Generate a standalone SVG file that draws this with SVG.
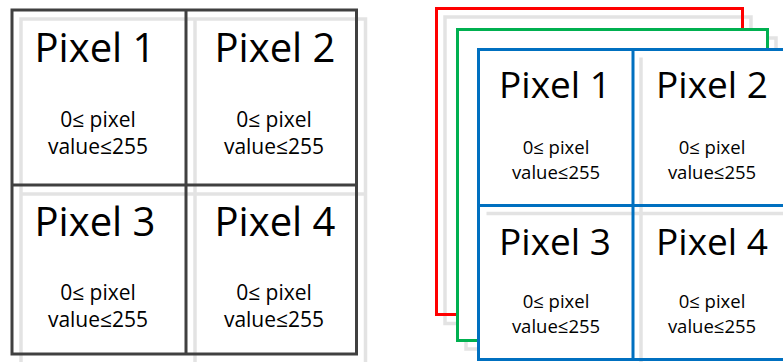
<svg xmlns="http://www.w3.org/2000/svg" width="783" height="362" viewBox="0 0 783 362">
  <style>
    .shadow { fill: none; stroke: #e3e3e3; stroke-width: 3.5; }
    .grid { fill: none; stroke: #404040; stroke-width: 3; }
    .red { fill: none; stroke: #ff0000; stroke-width: 3; }
    .green { fill: #ffffff; stroke: #00b050; stroke-width: 3; }
    .blue { fill: none; stroke: #0070c0; stroke-width: 3; }
    text { font-family: "Open Sans", "Liberation Sans", sans-serif; fill: #000000; text-anchor: middle; }
    .t1 { font-size: 40px; }
    .s1 { font-size: 21px; }
    .t2 { font-size: 37px; }
    .s2 { font-size: 18.5px; }
  </style>

  <!-- single-channel image: 2x2 pixel grid -->
  <g id="gray-grid">
    <g id="gray-grid-shadow">
      <rect class="shadow" x="21" y="19" width="344.5" height="346"/>
      <line class="shadow" x1="195" y1="19" x2="195" y2="365"/>
      <line class="shadow" x1="21" y1="194" x2="365.5" y2="194"/>
    </g>
    <g id="gray-grid-lines">
      <rect class="grid" x="12" y="10" width="344.5" height="344"/>
      <line class="grid" x1="186" y1="10" x2="186" y2="354"/>
      <line class="grid" x1="12" y1="185" x2="356.5" y2="185"/>
    </g>
    <g id="gray-pixel-1">
      <text class="t1" x="95" y="62">Pixel 1</text>
      <text class="s1" x="98" y="127">0≤ pixel</text>
      <text class="s1" x="98" y="154">value≤255</text>
    </g>
    <g id="gray-pixel-2">
      <text class="t1" x="275" y="62">Pixel 2</text>
      <text class="s1" x="274" y="127">0≤ pixel</text>
      <text class="s1" x="274" y="154">value≤255</text>
    </g>
    <g id="gray-pixel-3">
      <text class="t1" x="95" y="236">Pixel 3</text>
      <text class="s1" x="98" y="300">0≤ pixel</text>
      <text class="s1" x="98" y="327">value≤255</text>
    </g>
    <g id="gray-pixel-4">
      <text class="t1" x="275" y="236">Pixel 4</text>
      <text class="s1" x="274" y="300">0≤ pixel</text>
      <text class="s1" x="274" y="327">value≤255</text>
    </g>
  </g>

  <!-- RGB image: stacked channel planes -->
  <g id="red-channel">
    <rect class="shadow" x="445" y="17" width="306" height="306.5"/>
    <rect class="red" x="436.5" y="8.5" width="306" height="306"/>
  </g>
  <g id="green-channel">
    <rect class="shadow" x="466" y="38" width="310" height="311"/>
    <rect class="green" x="457.5" y="29.5" width="310" height="311"/>
  </g>
  <g id="blue-channel">
    <rect x="478.5" y="49.5" width="310" height="310" fill="#ffffff"/>
    <line class="shadow" x1="641" y1="57.5" x2="641" y2="362"/>
    <line class="shadow" x1="486.5" y1="213.5" x2="783" y2="213.5"/>
    <rect class="blue" x="478.5" y="49.5" width="309" height="310"/>
    <line class="blue" x1="633" y1="49.5" x2="633" y2="359.5"/>
    <line class="blue" x1="478.5" y1="205.5" x2="787.5" y2="205.5"/>
    <g id="blue-pixel-1">
      <text class="t2" x="555" y="98">Pixel 1</text>
      <text class="s2" x="556" y="154">0≤ pixel</text>
      <text class="s2" x="556" y="179">value≤255</text>
    </g>
    <g id="blue-pixel-2">
      <text class="t2" x="712" y="98">Pixel 2</text>
      <text class="s2" x="712" y="154">0≤ pixel</text>
      <text class="s2" x="712" y="179">value≤255</text>
    </g>
    <g id="blue-pixel-3">
      <text class="t2" x="555" y="255">Pixel 3</text>
      <text class="s2" x="556" y="308">0≤ pixel</text>
      <text class="s2" x="556" y="333">value≤255</text>
    </g>
    <g id="blue-pixel-4">
      <text class="t2" x="712" y="255">Pixel 4</text>
      <text class="s2" x="712" y="308">0≤ pixel</text>
      <text class="s2" x="712" y="333">value≤255</text>
    </g>
  </g>

  <!-- no connectors in this figure -->
  <g id="connectors"/>
</svg>
